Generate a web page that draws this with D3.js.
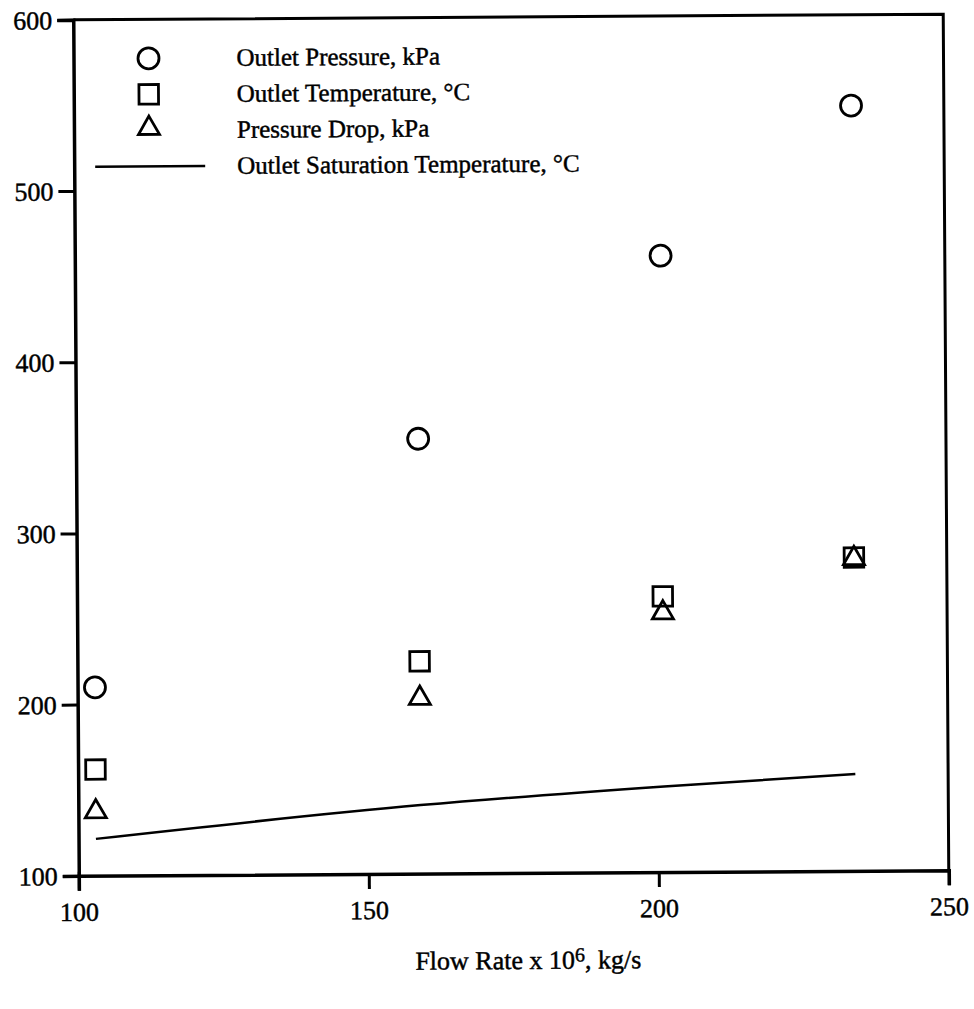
<!DOCTYPE html>
<html>
<head>
<meta charset="utf-8">
<script src="https://cdn.jsdelivr.net/npm/d3@7"></script>
<style>
  html, body { margin: 0; padding: 0; background: #fff; }
  svg { display: block; font-family: "Liberation Serif", "Times New Roman", serif; }
  svg text { stroke: #000; stroke-width: 0.45px; }
</style>
</head>
<body>
<div id="chart"></div>
<script>
// flow rate x 10^6, kg/s
const flowRates = [103, 159, 201, 234];
const outletPressure = [210, 354, 460, 547];
const outletTemperature = [162, 224, 261, 283];
const pressureDrop = [138, 203, 252, 283];
const saturationTemp = [121.5, 140, 150, 156.5];

const xTicks = [100, 150, 200, 250];
const yTicks = [100, 200, 300, 400, 500, 600];

const legendItems = [
  { key: "circle", label: "Outlet Pressure, kPa" },
  { key: "square", label: "Outlet Temperature, \u00B0C" },
  { key: "triangle", label: "Pressure Drop, kPa" },
  { key: "line", label: "Outlet Saturation Temperature, \u00B0C" },
];

const width = 974, height = 1009;
const plot = { left: 76, right: 946, top: 17, bottom: 873 };

const x = d3.scaleLinear().domain([100, 250]).range([plot.left, plot.right]);
const y = d3.scaleLinear().domain([100, 600]).range([plot.bottom, plot.top]);

const svg = d3.select("#chart").append("svg")
  .attr("width", width)
  .attr("height", height);

// the scanned figure is a little tilted
const g = svg.append("g")
  .attr("transform", `rotate(-0.37, ${width / 2 + 24}, ${height / 2 - 60})`);

// frame
g.append("path")
  .attr("d", `M${plot.left},${plot.top}H${plot.right}V${plot.bottom}`)
  .attr("fill", "none")
  .attr("stroke", "#000")
  .attr("stroke-width", 3);

const xAxis = g.append("g")
  .attr("transform", `translate(0,${plot.bottom})`)
  .call(d3.axisBottom(x).tickValues(xTicks).tickSize(15).tickPadding(14));

const yAxis = g.append("g")
  .attr("transform", `translate(${plot.left},0)`)
  .call(d3.axisLeft(y).tickValues(yTicks).tickSize(16).tickPadding(5));

[xAxis, yAxis].forEach(a => {
  a.select(".domain").attr("stroke-width", 3.5);
  a.selectAll(".tick line").attr("stroke-width", 3);
  a.selectAll(".tick text")
    .attr("font-family", "Liberation Serif")
    .attr("font-size", 26)
    .attr("fill", "#000");
});
xAxis.selectAll(".tick text").attr("dy", "0.62em");
yAxis.selectAll(".tick text").attr("dy", "0.34em");
// the bottom tick of the x axis pokes above the axis
xAxis.selectAll(".tick").filter(d => d === 100).select("line").attr("y1", -4);

g.append("text")
  .attr("x", 525)
  .attr("y", 969)
  .attr("text-anchor", "middle")
  .attr("font-size", 26)
  .attr("fill", "#000")
  .call(t => {
    t.append("tspan").text("Flow Rate x 10");
    t.append("tspan").attr("dy", -7).attr("font-size", 20).text("6");
    t.append("tspan").attr("dy", 7).text(", kg/s");
  });

const markerStyle = s => s.attr("fill", "none").attr("stroke", "#000").attr("stroke-width", 2.8);
const symSquare = d3.symbol().type(d3.symbolSquare).size(19.5 * 19.5);
const triSide = 21;
const triPath = `M0,${-triSide * 0.58}L${triSide / 2},${triSide * 0.29}L${-triSide / 2},${triSide * 0.29}Z`;

// saturation temperature line
const line = d3.line().x((d, i) => x(flowRates[i])).y(d => y(d)).curve(d3.curveMonotoneX);
g.append("path")
  .datum(saturationTemp)
  .attr("d", line)
  .attr("fill", "none")
  .attr("stroke", "#000")
  .attr("stroke-width", 2.5);

g.append("g").selectAll("circle")
  .data(outletPressure)
  .join("circle")
  .attr("cx", (d, i) => x(flowRates[i]))
  .attr("cy", d => y(d))
  .attr("r", 10.5)
  .call(markerStyle);

g.append("g").selectAll("path")
  .data(outletTemperature)
  .join("path")
  .attr("transform", (d, i) => `translate(${x(flowRates[i])},${y(d)})`)
  .attr("d", symSquare)
  .call(markerStyle);

g.append("g").selectAll("path")
  .data(pressureDrop)
  .join("path")
  .attr("transform", (d, i) => `translate(${x(flowRates[i])},${y(d) + 1})`)
  .attr("d", triPath)
  .call(markerStyle);

// legend
const legend = g.append("g");
const legendY = i => 56 + i * 36;

legendItems.forEach((item, i) => {
  const cy = legendY(i);
  if (item.key === "circle") {
    legend.append("circle").attr("cx", 151).attr("cy", cy).attr("r", 10.5).call(markerStyle);
  } else if (item.key === "square") {
    legend.append("path").attr("transform", `translate(151,${cy})`)
      .attr("d", symSquare).call(markerStyle);
  } else if (item.key === "triangle") {
    legend.append("path").attr("transform", `translate(151,${cy - 2})`)
      .attr("d", triPath).call(markerStyle);
  } else {
    legend.append("line").attr("x1", 97).attr("x2", 207).attr("y1", cy).attr("y2", cy)
      .attr("stroke", "#000").attr("stroke-width", 2.4);
  }
  legend.append("text")
    .attr("x", 239)
    .attr("y", cy + 8)
    .attr("font-size", 25)
    .attr("fill", "#000")
    .text(item.label);
});
</script>
</body>
</html>
